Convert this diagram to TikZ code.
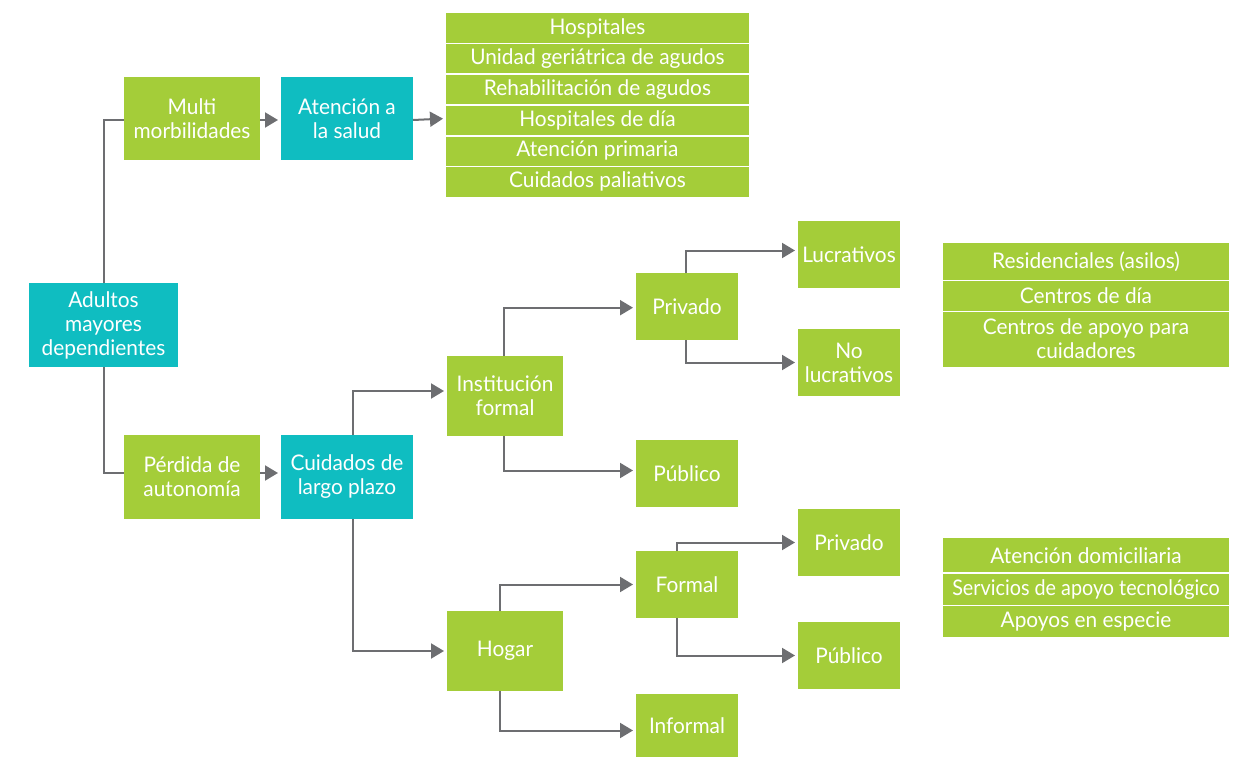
\documentclass[tikz,border=0pt]{standalone}
\usepackage{fontspec}
\setmainfont{Lato}[FakeStretch=0.97]
\usetikzlibrary{arrows.meta}
\definecolor{lgreen}{HTML}{A4CD39}
\definecolor{tealc}{HTML}{0FBDC1}
\definecolor{lgray}{HTML}{6D6E71}
\newcommand\bx[7]{\node[#2, minimum width={(#5-#3)*1pt}, minimum height={(#6-#4)*1pt}] (#1) at ({(#3+#5)/2},{(#4+#6)/2}) {#7};}
\begin{document}
\begin{tikzpicture}[x=1pt,y=-1pt,
  base/.style={draw=none, inner sep=0pt, outer sep=0pt, align=center, text=white,
    font=\fontsize{21.5}{24}\selectfont},
  gbox/.style={base, fill=lgreen},
  tbox/.style={base, fill=tealc},
  conn/.style={draw=lgray, line width=2pt},
  arr/.style={conn, -{Triangle[length=13pt,width=15pt]}, shorten >=3pt},
  divider/.style={draw=white, line width=1.6pt}]
\useasboundingbox (0,0) rectangle (1238,757);

% main boxes
\bx{adultos}{tbox}{29}{283}{178}{367}{Adultos\\mayores\\dependientes}
\bx{multi}{gbox}{124}{77}{260}{160}{Multi\\morbilidades}
\bx{atencion}{tbox}{281}{77}{413}{160}{Atención a\\la salud}
\bx{perdida}{gbox}{124}{435}{260}{519}{Pérdida de\\autonomía}
\bx{cuidados}{tbox}{281}{435}{413}{519}{Cuidados de\\largo plazo}
\bx{institucion}{gbox}{447}{356}{563}{436}{Institución\\formal}
\bx{hogar}{gbox}{447}{611}{563}{691}{Hogar}
\bx{privadoA}{gbox}{636}{273}{738}{340}{Privado}
\bx{publicoA}{gbox}{636}{440}{738}{507}{Público}
\bx{lucrativos}{gbox}{798}{221}{900}{288}{Lucrativos}
\bx{nolucrativos}{gbox}{798}{329}{900}{396}{No\\lucrativos}
\bx{formal}{gbox}{636}{551}{738}{618}{Formal}
\bx{informal}{gbox}{636}{694}{738}{757}{Informal}
\bx{privadoB}{gbox}{798}{509}{900}{576}{Privado}
\bx{publicoB}{gbox}{798}{622}{900}{689}{Público}

% list 1
\bx{la}{gbox}{446}{13}{749}{43.7}{Hospitales}
\bx{lb}{gbox}{446}{43.7}{749}{74.3}{Unidad geriátrica de agudos}
\bx{lc}{gbox}{446}{74.3}{749}{105}{Rehabilitación de agudos}
\bx{ld}{gbox}{446}{105}{749}{135.7}{Hospitales de día}
\bx{le}{gbox}{446}{135.7}{749}{166.3}{Atención primaria}
\bx{lf}{gbox}{446}{166.3}{749}{197}{Cuidados paliativos}
\foreach \r in {la,lb,lc,ld,le} \draw[divider] (\r.south west) -- (\r.south east);

% list 2
\bx{ma}{gbox}{943}{243}{1229}{280.3}{Residenciales (asilos)}
\bx{mb}{gbox}{943}{280.3}{1229}{311.3}{Centros de día}
\bx{mc}{gbox}{943}{311.3}{1229}{367}{Centros de apoyo para\\cuidadores}
\foreach \r in {ma,mb} \draw[divider] (\r.south west) -- (\r.south east);

% list 3
\bx{na}{gbox}{943}{538.3}{1229}{573}{Atención domiciliaria}
\bx{nb}{gbox}{943}{573}{1229}{605.3}{\addfontfeature{FakeStretch=0.92}Servicios de apoyo tecnológico}
\bx{nc}{gbox}{943}{605.3}{1229}{637.3}{Apoyos en especie}
\foreach \r in {na,nb} \draw[divider] (\r.south west) -- (\r.south east);

% connectors
\draw[conn] (adultos.north) |- ([yshift=-1.5pt]multi.west);
\draw[conn] (adultos.south) |- ([yshift=4pt]perdida.west);
\draw[arr] ([yshift=-1.5pt]multi.east) -- ([yshift=-1.5pt]atencion.west);
\draw[arr] ([yshift=-1.5pt]atencion.east) -- (atencion.east -| ld.west);
\draw[arr] ([yshift=4pt]perdida.east) -- ([yshift=4pt]cuidados.west);
\draw[arr] ([xshift=6pt]cuidados.north) |- ([yshift=5pt]institucion.west);
\draw[arr] ([xshift=6pt]cuidados.south) |- (hogar.west);
\draw[arr] ([xshift=-1pt]institucion.north) |- ([yshift=-1.2pt]privadoA.west);
\draw[arr] ([xshift=-1pt]institucion.south) |- ([yshift=3pt]publicoA.west);
\draw[arr] ([xshift=-1pt]privadoA.north) |- ([yshift=4pt]lucrativos.west);
\draw[arr] ([xshift=-1pt]privadoA.south) |- (nolucrativos.west);
\draw[arr] ([xshift=-5.5pt]hogar.north) |- (formal.west);
\draw[arr] ([xshift=-5.5pt]hogar.south) |- ([yshift=-5pt]informal.west);
\draw[arr] ([xshift=-10.5pt]formal.north) |- (privadoB.west);
\draw[arr] ([xshift=-10.5pt]formal.south) |- (publicoB.west);
\end{tikzpicture}
\end{document}
